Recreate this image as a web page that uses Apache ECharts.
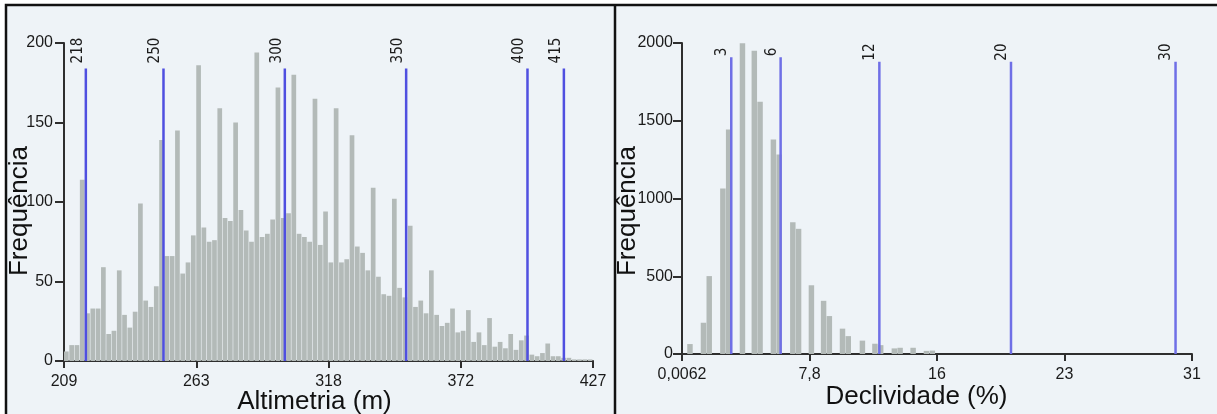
<!DOCTYPE html>
<html><head><meta charset="utf-8">
<script src="https://cdn.jsdelivr.net/npm/echarts@6/dist/echarts.min.js"></script>
<style>html,body{margin:0;padding:0;background:#fff}#c{width:1217px;height:414px}</style>
</head><body><div id="c"></div>
<script>
// ---------------- DATA ----------------
// Altimetria histogram: 100 bins of 2.18 m starting at 209 m
const altBinStart = 209;
const altBinWidth = 2.18;
const altFreq = [
  6, 10, 10, 114, 30, 33, 33, 59, 17, 19,
  57, 29, 21, 31, 99, 38, 34, 47, 139, 66,
  66, 145, 55, 62, 79, 186, 84, 75, 76, 159,
  90, 88, 150, 95, 82, 75, 194, 78, 80, 89,
  172, 90, 93, 180, 80, 78, 75, 165, 73, 94,
  62, 159, 62, 64, 142, 72, 68, 57, 109, 53,
  42, 41, 102, 46, 40, 85, 34, 38, 30, 57,
  29, 22, 24, 33, 18, 19, 32, 12, 18, 10,
  27, 9, 12, 8, 17, 7, 13, 16, 4, 3,
  5, 11, 3, 3, 2, 2, 1, 1, 1, 1
];
const altBreaks = [218, 250, 300, 350, 400, 415];
const altTickValues = [209, 263.5, 318, 372.5, 427];
const altTickLabels = ['209', '263', '318', '372', '427'];
const altYTicks = [0, 50, 100, 150, 200];

// Declividade histogram: bar centres (%) and frequencies
const slopeCenters = [0.50, 1.32, 1.67, 2.50, 2.85, 3.69, 4.41, 4.76, 5.57, 5.92,
  6.75, 7.10, 7.88, 8.62, 8.97, 9.77, 10.12, 10.98, 11.74, 12.09,
  12.92, 13.27, 14.06, 14.87, 15.23];
const slopeFreq = [64, 201, 501, 1065, 1444, 1998, 1950, 1622, 1380, 1283,
  848, 805, 442, 342, 244, 163, 115, 86, 66, 57,
  36, 40, 40, 20, 22];
const slopeBinWidth = 0.35;
const slopeBreaks = [3, 6, 12, 20, 30];
const slopeTickValues = [0.0062, 7.75465, 15.5031, 23.25155, 31];
const slopeTickLabels = ['0,0062', '7,8', '16', '23', '31'];
const slopeYTicks = [0, 500, 1000, 1500, 2000];

// ---------------- STYLE ----------------
const BAR_COLOR = '#b3bab8';
const AXIS_COLOR = '#2e2e2e';
const TEXT_COLOR = '#1a1a1a';
const FONT = "'Liberation Sans', Arial, sans-serif";
const NARROW = "'Liberation Sans Narrow', 'DejaVu Sans Condensed', 'Arial Narrow', sans-serif";
const ALT_LINE_TOP = 184;           // data height where break lines end
const SLOPE_LINE_TOP = [1908, 1908, 1880, 1880, 1880];

function nearestLabel(vals, labels) {
  return function (v) {
    let bi = 0, bd = Infinity;
    vals.forEach((t, i) => { const d = Math.abs(t - v); if (d < bd) { bd = d; bi = i; } });
    return labels[bi];
  };
}

function histRender(gap) {
  return function (params, api) {
    const p0 = api.coord([api.value(0), api.value(2)]);
    const p1 = api.coord([api.value(1), 0]);
    return {
      type: 'rect',
      shape: { x: p0[0], y: p0[1], width: Math.max(0.5, p1[0] - p0[0] - gap), height: p1[1] - p0[1] },
      style: { fill: BAR_COLOR }
    };
  };
}

function breakRender(color, labelOffset, labelGap, tops) {
  return function (params, api) {
    const x = api.value(0);
    const top = tops ? tops[params.dataIndex] : api.value(1);
    const pT = api.coord([x, top]);
    const pB = api.coord([x, 0]);
    return {
      type: 'group',
      children: [
        { type: 'line', shape: { x1: pT[0], y1: pT[1], x2: pB[0], y2: pB[1] },
          style: { stroke: color, lineWidth: 2.5 } },
        { type: 'text', x: pT[0] - labelOffset, y: pT[1] - labelGap, rotation: Math.PI / 2,
          style: { text: String(x), align: 'left', verticalAlign: 'middle',
                   font: '15px ' + NARROW, fill: '#1c1c1c' } }
      ]
    };
  };
}

const chart = echarts.init(document.getElementById('c'), null, { renderer: 'canvas' });

const xAxisCommon = {
  type: 'value',
  axisLine: { show: true, lineStyle: { color: AXIS_COLOR, width: 2 } },
  splitLine: { show: false },
  nameLocation: 'middle',
  nameMoveOverlap: false,
};

chart.setOption({
  animation: false,
  backgroundColor: '#ffffff',
  graphic: { elements: [
    { type: 'rect', z: -100, shape: { x: 6, y: 5, width: 1230, height: 430 },
      style: { fill: '#eef3f7', stroke: '#111', lineWidth: 2.5 } },
    { type: 'line', z: -99, shape: { x1: 615, y1: 5, x2: 615, y2: 420 },
      style: { stroke: '#111', lineWidth: 2.5 } }
  ] },
  grid: [
    { left: 64, top: 43, width: 529, height: 318, outerBoundsMode: 'none', containLabel: false },
    { left: 682, top: 43, width: 510, height: 311, outerBoundsMode: 'none', containLabel: false }
  ],
  xAxis: [
    Object.assign({}, xAxisCommon, {
      gridIndex: 0, min: 209, max: 427,
      axisTick: { show: true, customValues: altTickValues, length: 7, lineStyle: { color: AXIS_COLOR, width: 2 } },
      axisLabel: { customValues: altTickValues, formatter: nearestLabel(altTickValues, altTickLabels),
                   fontSize: 16, color: TEXT_COLOR, fontFamily: FONT, margin: 13 },
      name: 'Altimetria (m)', nameGap: 28,
      nameTextStyle: { fontSize: 26, color: '#111', fontFamily: FONT, padding: [0, 28, 0, 0] }
    }),
    Object.assign({}, xAxisCommon, {
      gridIndex: 1, min: 0.0062, max: 31,
      axisTick: { show: true, customValues: slopeTickValues, length: 7, lineStyle: { color: AXIS_COLOR, width: 2 } },
      axisLabel: { customValues: slopeTickValues, formatter: nearestLabel(slopeTickValues, slopeTickLabels),
                   fontSize: 16, color: TEXT_COLOR, fontFamily: FONT, margin: 13 },
      name: 'Declividade (%)', nameGap: 30,
      nameTextStyle: { fontSize: 26, color: '#111', fontFamily: FONT, padding: [0, 41, 0, 0] }
    })
  ],
  yAxis: [
    { gridIndex: 0, type: 'value', min: 0, max: 200, interval: 50,
      axisLine: { show: true, lineStyle: { color: AXIS_COLOR, width: 2 } },
      axisTick: { show: true, length: 9, lineStyle: { color: AXIS_COLOR, width: 2 } },
      axisLabel: { fontSize: 16, color: TEXT_COLOR, fontFamily: FONT, margin: 11,
                   formatter: v => altYTicks.includes(v) ? String(v) : '' },
      splitLine: { show: false },
      name: 'Frequência', nameLocation: 'middle', nameGap: 31, nameMoveOverlap: false,
      nameTextStyle: { fontSize: 26, color: '#111', fontFamily: FONT, padding: [0, 18, 0, 0] } },
    { gridIndex: 1, type: 'value', min: 0, max: 2000, interval: 500,
      axisLine: { show: true, lineStyle: { color: AXIS_COLOR, width: 2 } },
      axisTick: { show: true, length: 9, lineStyle: { color: AXIS_COLOR, width: 2 } },
      axisLabel: { fontSize: 16, color: TEXT_COLOR, fontFamily: FONT, margin: 9,
                   formatter: v => slopeYTicks.includes(v) ? String(v) : '' },
      splitLine: { show: false },
      name: 'Frequência', nameLocation: 'middle', nameGap: 41, nameMoveOverlap: false,
      nameTextStyle: { fontSize: 26, color: '#111', fontFamily: FONT, padding: [0, 25, 0, 0] } }
  ],
  series: [
    { type: 'custom', xAxisIndex: 0, yAxisIndex: 0, z: 2,
      renderItem: histRender(0.6),
      encode: { x: [0, 1], y: 2 },
      data: altFreq.map((v, i) => [altBinStart + i * altBinWidth, altBinStart + (i + 1) * altBinWidth, v]) },
    { type: 'custom', xAxisIndex: 0, yAxisIndex: 0, z: 3,
      renderItem: breakRender('#4f4fe0', 8, 5, null),
      encode: { x: 0, y: 1 },
      data: altBreaks.map(b => [b, ALT_LINE_TOP]) },
    { type: 'custom', xAxisIndex: 1, yAxisIndex: 1, z: 2,
      renderItem: histRender(0.3),
      encode: { x: [0, 1], y: 2 },
      data: slopeCenters.map((c, i) => [c - slopeBinWidth / 2, c + slopeBinWidth / 2, slopeFreq[i]]) },
    { type: 'custom', xAxisIndex: 1, yAxisIndex: 1, z: 3,
      renderItem: breakRender('#6f6fe6', 9, 1, SLOPE_LINE_TOP),
      encode: { x: 0, y: 1 },
      data: slopeBreaks.map((b, i) => [b, SLOPE_LINE_TOP[i]]) }
  ]
});
</script>
</body></html>
